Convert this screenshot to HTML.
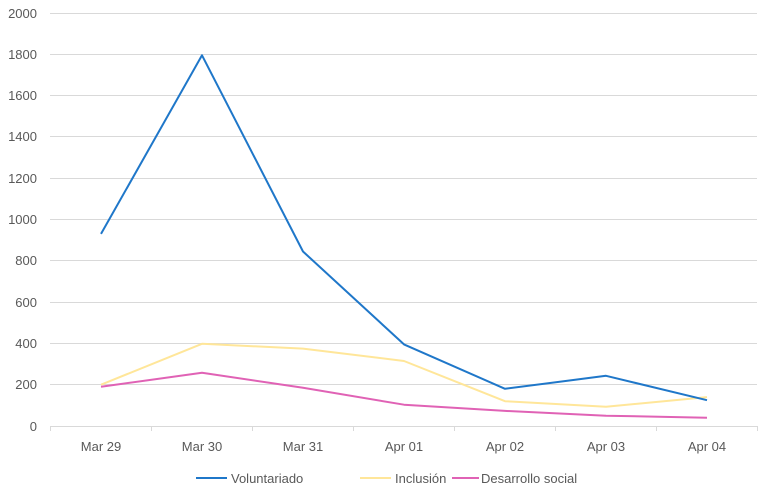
<!DOCTYPE html>
<html><head><style>body{margin:0;background:#fff}svg{display:block}text{font-family:"Liberation Sans",sans-serif;font-size:13px;fill:#595959}</style></head><body>
<svg width="762" height="495" xmlns="http://www.w3.org/2000/svg">
<g stroke="#d9d9d9" stroke-width="1">
<line x1="50" y1="13.5" x2="757" y2="13.5"/><line x1="50" y1="54.5" x2="757" y2="54.5"/><line x1="50" y1="95.5" x2="757" y2="95.5"/><line x1="50" y1="136.5" x2="757" y2="136.5"/><line x1="50" y1="178.5" x2="757" y2="178.5"/><line x1="50" y1="219.5" x2="757" y2="219.5"/><line x1="50" y1="260.5" x2="757" y2="260.5"/><line x1="50" y1="302.5" x2="757" y2="302.5"/><line x1="50" y1="343.5" x2="757" y2="343.5"/><line x1="50" y1="384.5" x2="757" y2="384.5"/><line x1="50" y1="426.5" x2="757" y2="426.5"/>
<line x1="50.5" y1="426" x2="50.5" y2="431"/><line x1="151.5" y1="426" x2="151.5" y2="431"/><line x1="252.5" y1="426" x2="252.5" y2="431"/><line x1="353.5" y1="426" x2="353.5" y2="431"/><line x1="454.5" y1="426" x2="454.5" y2="431"/><line x1="555.5" y1="426" x2="555.5" y2="431"/><line x1="656.5" y1="426" x2="656.5" y2="431"/><line x1="757.5" y1="426" x2="757.5" y2="431"/>
</g>
<g text-anchor="end"><text x="37" y="18">2000</text><text x="37" y="59">1800</text><text x="37" y="100">1600</text><text x="37" y="141">1400</text><text x="37" y="183">1200</text><text x="37" y="224">1000</text><text x="37" y="265">800</text><text x="37" y="307">600</text><text x="37" y="348">400</text><text x="37" y="389">200</text><text x="37" y="431">0</text></g>
<g text-anchor="middle"><text x="101" y="451">Mar 29</text><text x="202" y="451">Mar 30</text><text x="303" y="451">Mar 31</text><text x="404" y="451">Apr 01</text><text x="505" y="451">Apr 02</text><text x="606" y="451">Apr 03</text><text x="707" y="451">Apr 04</text></g>
<g fill="none" stroke-width="2" stroke-linejoin="round">
<polyline stroke="#ffe699" points="101,384.7 202,343.8 303,348.6 404,361 505,401.2 606,406.8 707,397.1"/>
<polyline stroke="#e062b5" points="101,386.8 202,372.7 303,387.8 404,404.7 505,410.9 606,415.7 707,417.7"/>
<polyline stroke="#1f77c9" points="101,233.9 202,55.3 303,251.5 404,344.4 505,388.8 606,375.8 707,400.2"/>
</g>
<line x1="196" y1="478" x2="227" y2="478" stroke="#1f77c9" stroke-width="2"/><text x="231" y="483">Voluntariado</text>
<line x1="360" y1="478" x2="391" y2="478" stroke="#ffe699" stroke-width="2"/><text x="395" y="483">Inclusión</text>
<line x1="452" y1="478" x2="479" y2="478" stroke="#e062b5" stroke-width="2"/><text x="481" y="483">Desarrollo social</text>
</svg></body></html>
